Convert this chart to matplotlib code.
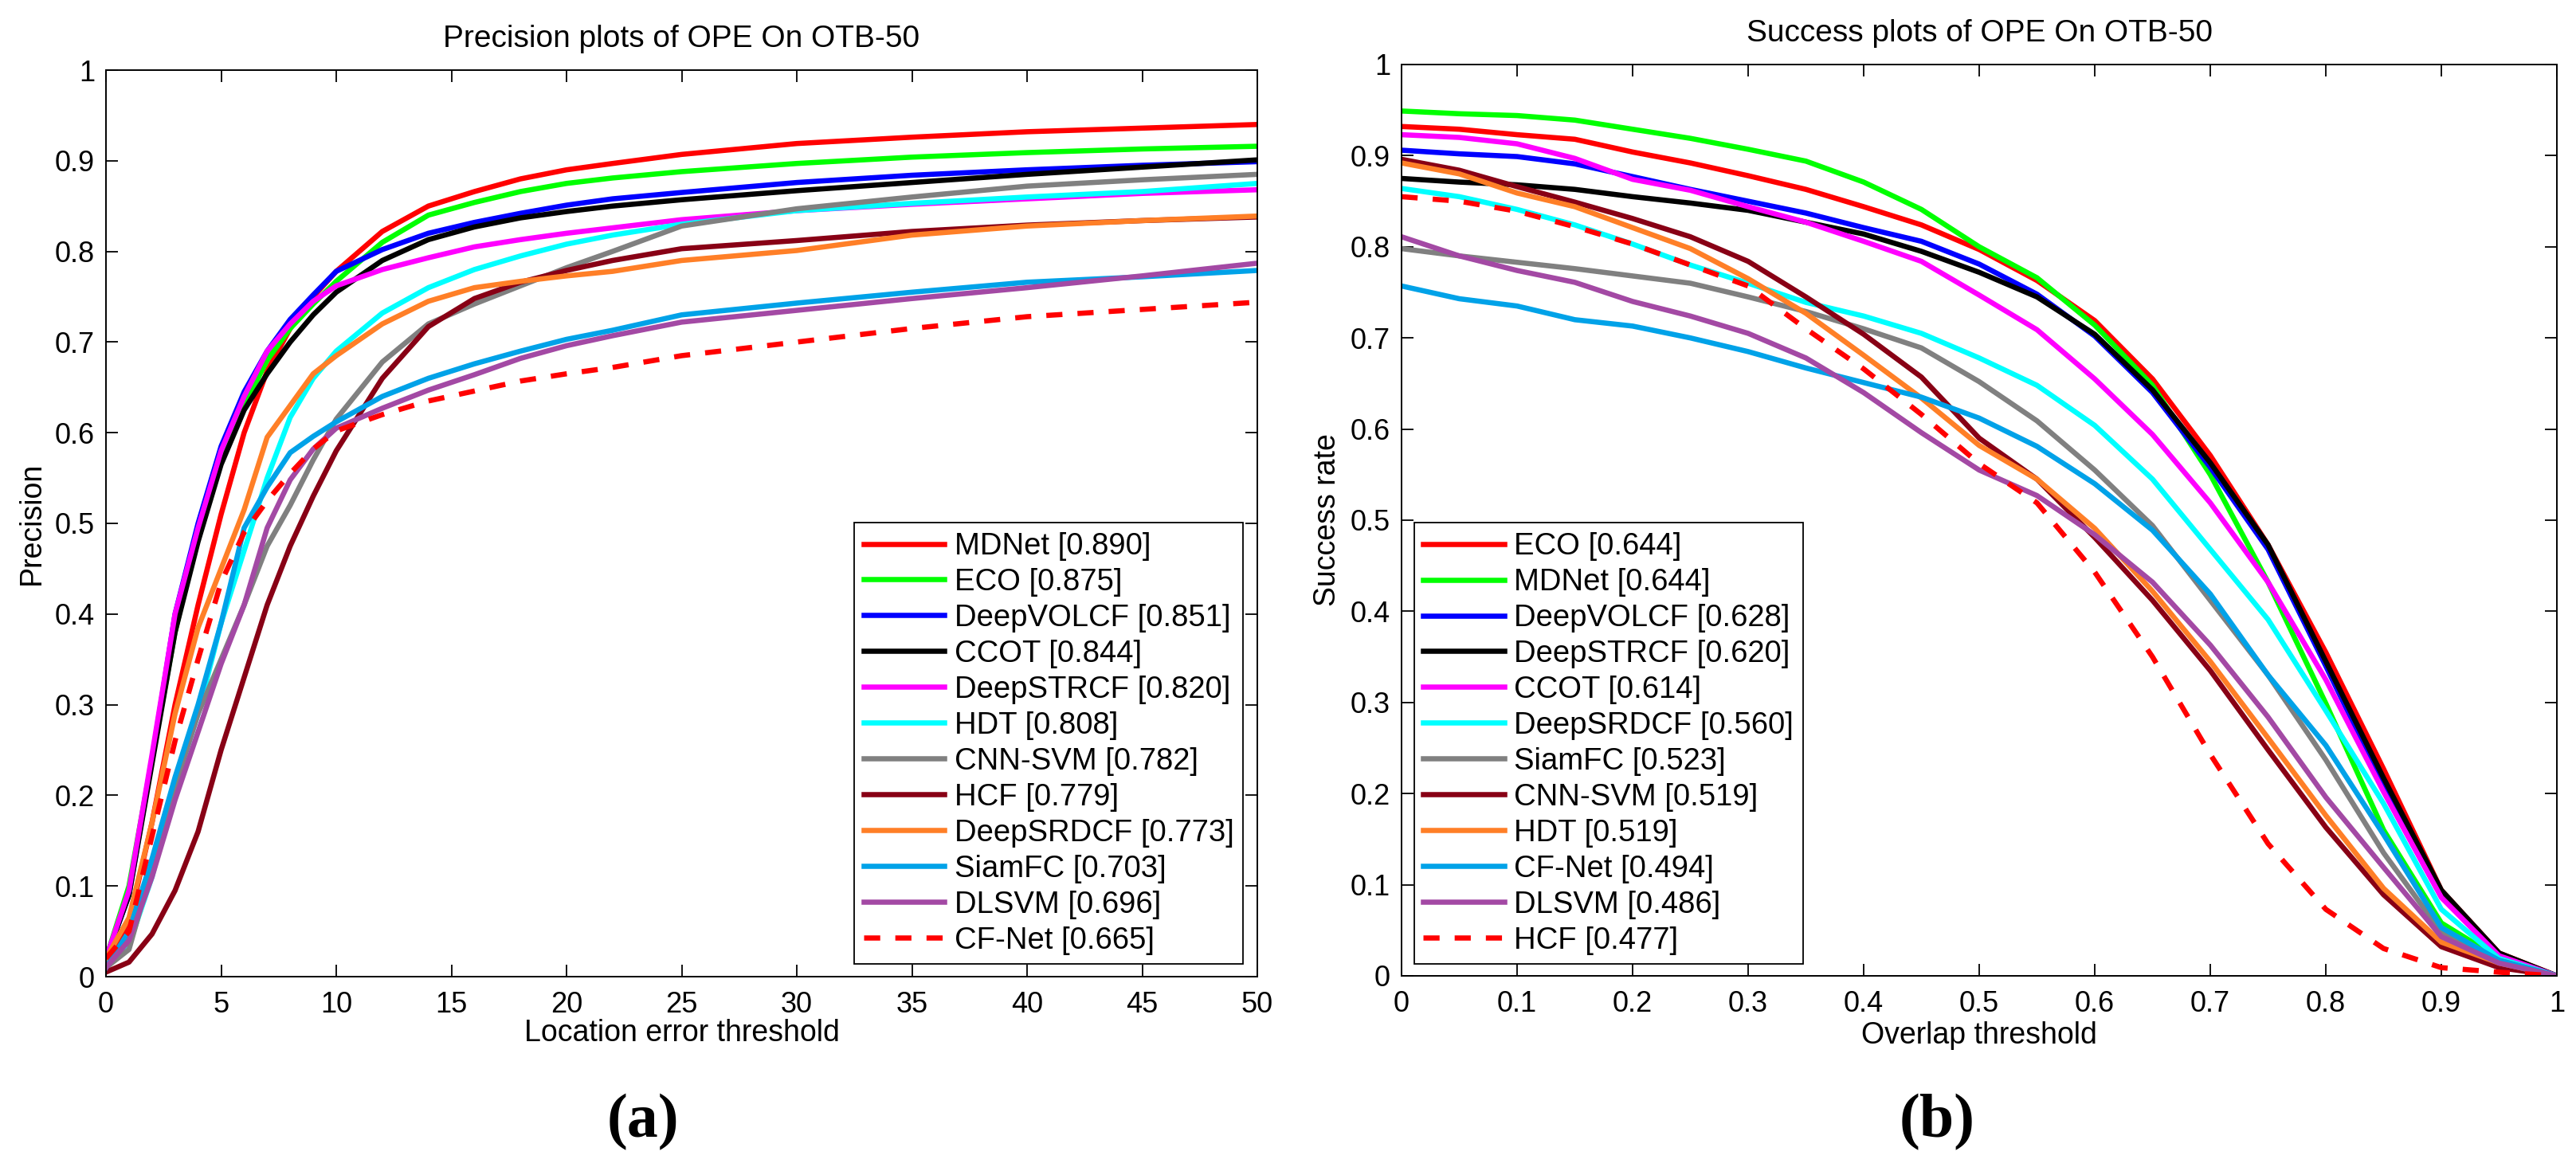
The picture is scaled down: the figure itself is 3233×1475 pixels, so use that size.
import matplotlib
matplotlib.use("Agg")
import matplotlib.pyplot as plt
from matplotlib import font_manager

# ---------------- data ----------------
prec_x = [0, 1, 2, 3, 4, 5, 6, 7, 8, 9, 10, 12, 14, 16, 18, 20, 22, 25, 30, 35, 40, 45, 50]

prec_names = ["MDNet", "ECO", "DeepVOLCF", "CCOT", "DeepSTRCF", "HDT", "CNN-SVM",
              "HCF", "DeepSRDCF", "SiamFC", "DLSVM", "CF-Net"]
prec_scores = ["0.890", "0.875", "0.851", "0.844", "0.820", "0.808", "0.782",
               "0.779", "0.773", "0.703", "0.696", "0.665"]

prec_mdnet = [0.01, 0.06, 0.17, 0.30, 0.41, 0.51, 0.60, 0.668, 0.715, 0.75, 0.778, 0.822, 0.85, 0.866, 0.88, 0.89, 0.897, 0.907, 0.919, 0.926, 0.932, 0.936, 0.940]
prec_eco = [0.02, 0.10, 0.24, 0.38, 0.49, 0.57, 0.63, 0.68, 0.715, 0.742, 0.767, 0.81, 0.84, 0.854, 0.866, 0.875, 0.881, 0.888, 0.897, 0.904, 0.909, 0.913, 0.916]
prec_deepvolcf = [0.02, 0.09, 0.24, 0.40, 0.50, 0.585, 0.645, 0.69, 0.725, 0.752, 0.778, 0.802, 0.82, 0.832, 0.842, 0.851, 0.858, 0.865, 0.876, 0.884, 0.89, 0.895, 0.899]
prec_ccot = [0.02, 0.09, 0.235, 0.38, 0.48, 0.565, 0.625, 0.665, 0.70, 0.73, 0.755, 0.79, 0.813, 0.827, 0.837, 0.844, 0.85, 0.857, 0.867, 0.876, 0.885, 0.893, 0.901]
prec_deepstrcf = [0.02, 0.095, 0.245, 0.40, 0.495, 0.58, 0.64, 0.69, 0.72, 0.745, 0.762, 0.78, 0.793, 0.805, 0.813, 0.82, 0.826, 0.835, 0.845, 0.852, 0.858, 0.864, 0.868]
prec_hdt = [0.01, 0.035, 0.11, 0.21, 0.29, 0.39, 0.47, 0.55, 0.617, 0.66, 0.69, 0.732, 0.76, 0.78, 0.795, 0.808, 0.818, 0.83, 0.845, 0.853, 0.86, 0.866, 0.875]
prec_cnnsvm = [0.01, 0.03, 0.12, 0.21, 0.29, 0.35, 0.41, 0.475, 0.52, 0.57, 0.615, 0.678, 0.72, 0.742, 0.762, 0.782, 0.80, 0.828, 0.847, 0.86, 0.872, 0.879, 0.885]
prec_hcf = [0.005, 0.016, 0.047, 0.095, 0.16, 0.25, 0.33, 0.41, 0.475, 0.53, 0.58, 0.66, 0.717, 0.748, 0.766, 0.779, 0.79, 0.803, 0.812, 0.822, 0.829, 0.834, 0.838]
prec_deepsrdcf = [0.02, 0.065, 0.17, 0.29, 0.385, 0.45, 0.515, 0.595, 0.63, 0.665, 0.685, 0.72, 0.745, 0.76, 0.767, 0.773, 0.778, 0.79, 0.801, 0.818, 0.828, 0.834, 0.839]
prec_siamfc = [0.01, 0.05, 0.13, 0.22, 0.30, 0.39, 0.495, 0.54, 0.578, 0.596, 0.612, 0.64, 0.66, 0.676, 0.69, 0.703, 0.713, 0.73, 0.743, 0.755, 0.766, 0.772, 0.779]
prec_dlsvm = [0.01, 0.04, 0.11, 0.195, 0.27, 0.345, 0.41, 0.495, 0.548, 0.582, 0.605, 0.627, 0.647, 0.664, 0.682, 0.696, 0.707, 0.722, 0.735, 0.748, 0.76, 0.773, 0.787]
prec_cfnet = [0.02, 0.05, 0.155, 0.26, 0.35, 0.435, 0.49, 0.525, 0.555, 0.582, 0.602, 0.62, 0.635, 0.646, 0.657, 0.665, 0.672, 0.685, 0.70, 0.715, 0.728, 0.736, 0.744]

prec_values = [prec_mdnet, prec_eco, prec_deepvolcf, prec_ccot, prec_deepstrcf, prec_hdt,
               prec_cnnsvm, prec_hcf, prec_deepsrdcf, prec_siamfc, prec_dlsvm, prec_cfnet]

succ_x = [0.0, 0.05, 0.1, 0.15, 0.2, 0.25, 0.3, 0.35, 0.4, 0.45, 0.5,
          0.55, 0.6, 0.65, 0.7, 0.75, 0.8, 0.85, 0.9, 0.95, 1.0]

succ_names = ["ECO", "MDNet", "DeepVOLCF", "DeepSTRCF", "CCOT", "DeepSRDCF", "SiamFC",
              "CNN-SVM", "HDT", "CF-Net", "DLSVM", "HCF"]
succ_scores = ["0.644", "0.644", "0.628", "0.620", "0.614", "0.560", "0.523",
               "0.519", "0.519", "0.494", "0.486", "0.477"]

succ_eco = [0.932, 0.929, 0.923, 0.918, 0.904, 0.892, 0.878, 0.863, 0.844, 0.824, 0.797, 0.763, 0.719, 0.655, 0.571, 0.473, 0.355, 0.227, 0.094, 0.025, 0.0]
succ_mdnet = [0.949, 0.946, 0.944, 0.939, 0.929, 0.919, 0.907, 0.894, 0.871, 0.841, 0.80, 0.766, 0.714, 0.648, 0.55, 0.432, 0.299, 0.16, 0.058, 0.019, 0.0]
succ_deepvolcf = [0.906, 0.902, 0.899, 0.891, 0.877, 0.863, 0.850, 0.837, 0.821, 0.806, 0.781, 0.748, 0.702, 0.64, 0.558, 0.468, 0.34, 0.209, 0.089, 0.022, 0.0]
succ_deepstrcf = [0.875, 0.871, 0.868, 0.863, 0.855, 0.848, 0.840, 0.827, 0.814, 0.795, 0.772, 0.745, 0.704, 0.643, 0.563, 0.473, 0.345, 0.217, 0.094, 0.025, 0.0]
succ_ccot = [0.923, 0.920, 0.913, 0.897, 0.874, 0.862, 0.844, 0.827, 0.806, 0.784, 0.747, 0.709, 0.655, 0.594, 0.519, 0.432, 0.325, 0.202, 0.086, 0.022, 0.0]
succ_deepsrdcf = [0.864, 0.855, 0.841, 0.824, 0.803, 0.780, 0.760, 0.739, 0.724, 0.705, 0.678, 0.648, 0.604, 0.545, 0.468, 0.391, 0.291, 0.189, 0.073, 0.019, 0.0]
succ_siamfc = [0.798, 0.790, 0.783, 0.776, 0.768, 0.760, 0.745, 0.729, 0.710, 0.689, 0.652, 0.609, 0.555, 0.494, 0.412, 0.33, 0.237, 0.135, 0.048, 0.017, 0.0]
succ_cnnsvm = [0.896, 0.884, 0.866, 0.849, 0.831, 0.811, 0.784, 0.745, 0.704, 0.657, 0.59, 0.545, 0.481, 0.412, 0.335, 0.248, 0.163, 0.089, 0.032, 0.009, 0.0]
succ_hdt = [0.892, 0.880, 0.859, 0.844, 0.821, 0.798, 0.765, 0.727, 0.681, 0.634, 0.582, 0.545, 0.491, 0.422, 0.345, 0.261, 0.176, 0.096, 0.037, 0.014, 0.0]
succ_cfnet = [0.757, 0.743, 0.735, 0.720, 0.713, 0.700, 0.685, 0.667, 0.651, 0.635, 0.612, 0.581, 0.54, 0.489, 0.419, 0.33, 0.253, 0.155, 0.053, 0.017, 0.0]
succ_dlsvm = [0.811, 0.790, 0.774, 0.761, 0.740, 0.724, 0.705, 0.678, 0.640, 0.596, 0.555, 0.527, 0.484, 0.432, 0.363, 0.284, 0.196, 0.119, 0.043, 0.014, 0.0]
succ_hcf = [0.855, 0.850, 0.839, 0.822, 0.803, 0.780, 0.757, 0.71, 0.666, 0.616, 0.562, 0.519, 0.443, 0.35, 0.243, 0.145, 0.073, 0.03, 0.009, 0.004, 0.0]

succ_values = [succ_eco, succ_mdnet, succ_deepvolcf, succ_deepstrcf, succ_ccot, succ_deepsrdcf,
               succ_siamfc, succ_cnnsvm, succ_hdt, succ_cfnet, succ_dlsvm, succ_hcf]

prec_xticks = [0, 5, 10, 15, 20, 25, 30, 35, 40, 45, 50]
prec_xticklabels = ["0", "5", "10", "15", "20", "25", "30", "35", "40", "45", "50"]
yticks = [0, 0.1, 0.2, 0.3, 0.4, 0.5, 0.6, 0.7, 0.8, 0.9, 1.0]
yticklabels = ["0", "0.1", "0.2", "0.3", "0.4", "0.5", "0.6", "0.7", "0.8", "0.9", "1"]
succ_xticks = [0, 0.1, 0.2, 0.3, 0.4, 0.5, 0.6, 0.7, 0.8, 0.9, 1.0]
succ_xticklabels = ["0", "0.1", "0.2", "0.3", "0.4", "0.5", "0.6", "0.7", "0.8", "0.9", "1"]

# ---------------- styles (OTB palette, by rank) ----------------
rank_colors = ["#FF0000", "#00FF00", "#0000FF", "#000000", "#FF00FF", "#00FFFF",
               "#808080", "#880015", "#FF7F27", "#00A2E8", "#A349A4", "#FF0000"]
rank_styles = ["-"] * 11 + ["--"]

available = {f.name for f in font_manager.fontManager.ttflist}
sans = "Liberation Sans" if "Liberation Sans" in available else "DejaVu Sans"
serif = "Liberation Serif" if "Liberation Serif" in available else "DejaVu Serif"
plt.rcParams["font.family"] = [sans, "DejaVu Sans"]

W, H = 3233, 1475
fig = plt.figure(figsize=(W / 100, H / 100), dpi=100)

LW = 4.7
TICK_FS = 26
LABEL_FS = 27
TITLE_FS = 28
LEG_FS = 27.5


def style_axes(ax, xticks, xticklabels, xlim):
    ax.set_xlim(*xlim)
    ax.set_ylim(0, 1)
    ax.set_xticks(xticks)
    ax.set_xticklabels(xticklabels)
    ax.set_yticks(yticks)
    ax.set_yticklabels(yticklabels)
    ax.tick_params(direction="in", length=10.8, width=1.3, top=True, right=True,
                   labelsize=TICK_FS)
    ax.tick_params(axis="x", pad=13)
    ax.tick_params(axis="y", pad=10)
    for s in ax.spines.values():
        s.set_linewidth(1.4)


def draw(ax, x, names, scores, values):
    for i, (n, sc, v) in enumerate(zip(names, scores, values)):
        kw = {}
        if rank_styles[i] == "--":
            kw["dashes"] = (3.1, 2.9)
            kw["dash_capstyle"] = "butt"
        ax.plot(x, v, color=rank_colors[i], linestyle=rank_styles[i], linewidth=LW,
                label=f"{n} [{sc}]", **kw)


LEG_KW = dict(fontsize=LEG_FS, handlelength=2.65, handletextpad=0.33, borderpad=0.3,
              labelspacing=0.235, borderaxespad=0, fancybox=False, framealpha=1,
              edgecolor="black")

# left: precision
ax1 = fig.add_axes([133 / W, 1 - 1226 / H, 1445 / W, 1138 / H])
draw(ax1, prec_x, prec_names, prec_scores, prec_values)
style_axes(ax1, prec_xticks, prec_xticklabels, (0, 50))
ax1.set_title("Precision plots of OPE On OTB-50", fontsize=TITLE_FS, pad=21)
ax1.set_xlabel("Location error threshold", fontsize=LABEL_FS)
ax1.set_ylabel("Precision", fontsize=LABEL_FS)
ax1.xaxis.set_label_coords(0.5, -0.047)
ax1.yaxis.set_label_coords(-0.052, 0.5)
leg1 = ax1.legend(loc="lower right", bbox_to_anchor=(0.9875, 0.014), **LEG_KW)
leg1.get_frame().set_linewidth(1.3)

# right: success
ax2 = fig.add_axes([1759 / W, 1 - 1225 / H, 1450 / W, 1144 / H])
draw(ax2, succ_x, succ_names, succ_scores, succ_values)
style_axes(ax2, succ_xticks, succ_xticklabels, (0, 1))
ax2.set_title("Success plots of OPE On OTB-50", fontsize=TITLE_FS, pad=21)
ax2.set_xlabel("Overlap threshold", fontsize=LABEL_FS)
ax2.set_ylabel("Success rate", fontsize=LABEL_FS)
ax2.xaxis.set_label_coords(0.5, -0.050)
ax2.yaxis.set_label_coords(-0.052, 0.5)
leg2 = ax2.legend(loc="lower left", bbox_to_anchor=(0.011, 0.013), **LEG_KW)
leg2.get_frame().set_linewidth(1.3)

# subfigure captions
fig.text(807 / W, 1 - 1409 / H, "(a)", fontsize=56, fontweight="bold",
         family=[serif, "DejaVu Serif"], ha="center", va="center")
fig.text(2431 / W, 1 - 1409 / H, "(b)", fontsize=56, fontweight="bold",
         family=[serif, "DejaVu Serif"], ha="center", va="center")

fig.savefig("out.png", dpi=100, facecolor="white")
